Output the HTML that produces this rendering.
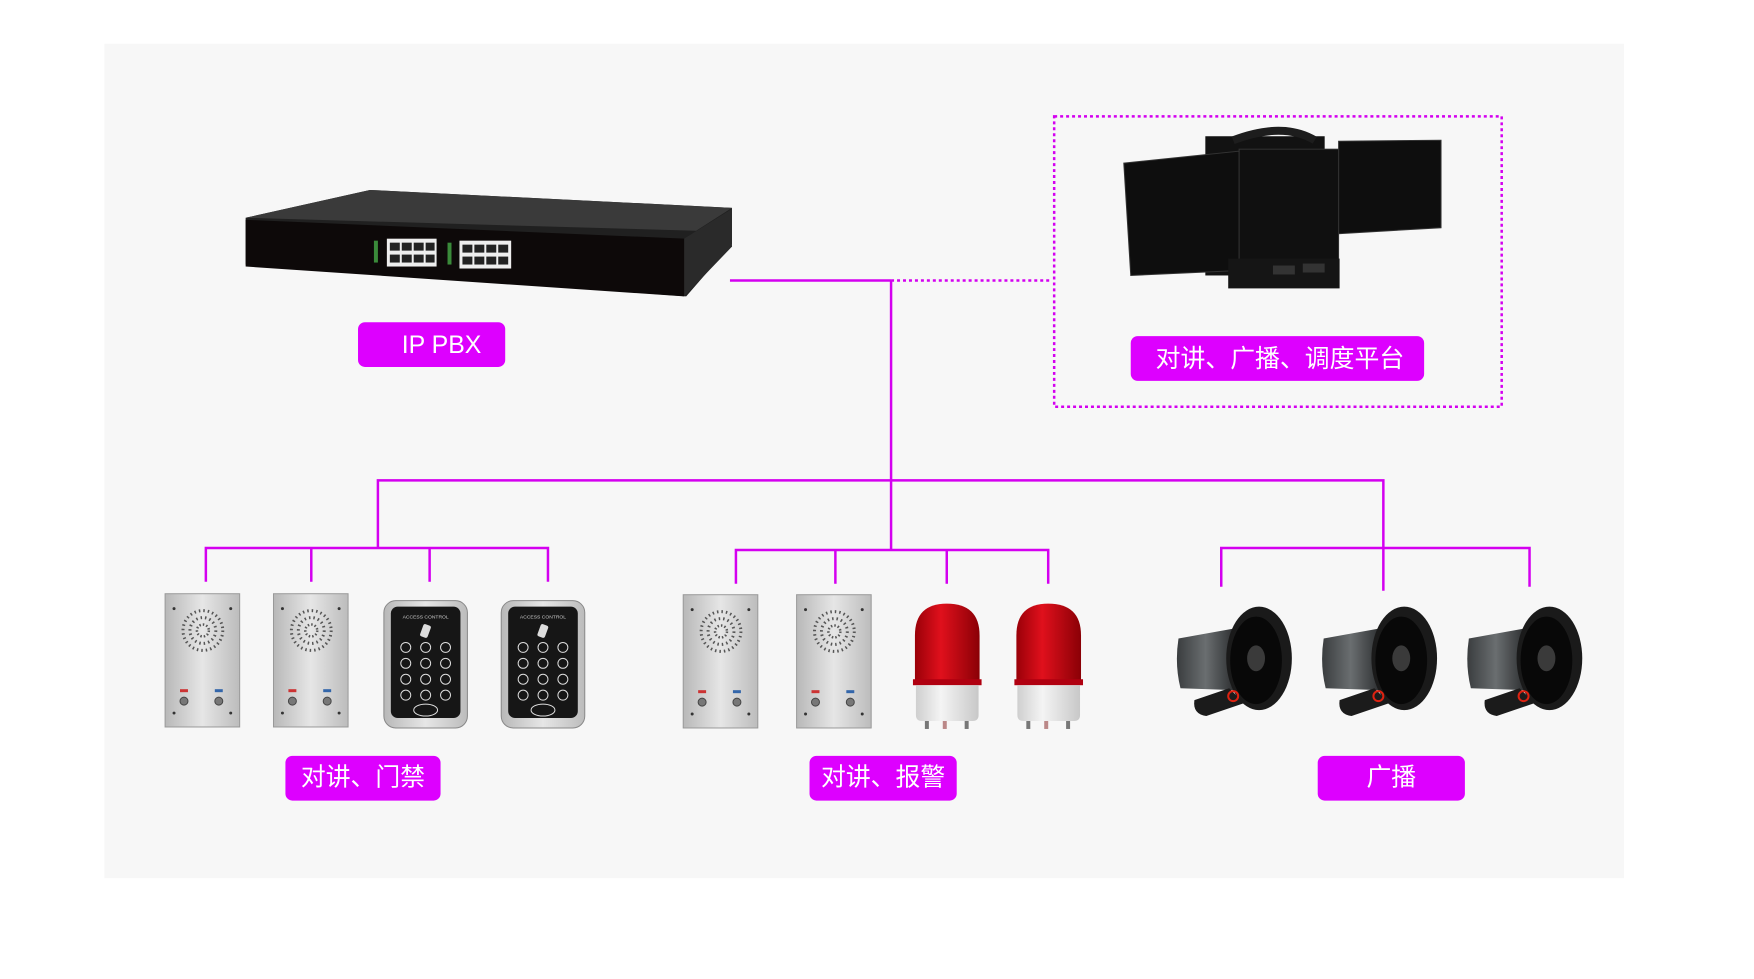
<!DOCTYPE html>
<html><head><meta charset="utf-8"><style>
html,body{margin:0;padding:0;background:#fff;}
svg{display:block}
text{font-family:"Liberation Sans","Noto Sans CJK SC",sans-serif;}
</style></head><body>
<svg width="1754" height="979" viewBox="0 0 1754 979" xmlns="http://www.w3.org/2000/svg">
<defs>
<linearGradient id="sil" x1="0" x2="1"><stop offset="0" stop-color="#b8b8b8"/><stop offset=".5" stop-color="#e6e6e6"/><stop offset="1" stop-color="#bcbcbc"/></linearGradient>
<linearGradient id="red" x1="0" x2="1"><stop offset="0" stop-color="#9a0008"/><stop offset=".4" stop-color="#e0101c"/><stop offset="1" stop-color="#8a0006"/></linearGradient>
<linearGradient id="wht" x1="0" x2="1"><stop offset="0" stop-color="#cfcfcf"/><stop offset=".4" stop-color="#f4f4f4"/><stop offset="1" stop-color="#c8c8c8"/></linearGradient>
<linearGradient id="spk" x1="0" x2="1"><stop offset="0" stop-color="#3a3d3f"/><stop offset=".5" stop-color="#6a6e70"/><stop offset="1" stop-color="#2e3032"/></linearGradient>
<g id="icom">
<rect x="0" y="0" width="75" height="134" fill="url(#sil)" stroke="#999" stroke-width="1"/>
<circle cx="38" cy="37" r="20" fill="none" stroke="#555" stroke-width="3" stroke-dasharray="1.5 3"/>
<circle cx="38" cy="37" r="13" fill="none" stroke="#555" stroke-width="3" stroke-dasharray="1.5 3"/>
<circle cx="38" cy="37" r="6" fill="none" stroke="#555" stroke-width="2.5" stroke-dasharray="1.5 2"/>
<circle cx="9" cy="15" r="1.5" fill="#333"/><circle cx="66" cy="15" r="1.5" fill="#333"/>
<circle cx="9" cy="120" r="1.5" fill="#333"/><circle cx="66" cy="120" r="1.5" fill="#333"/>
<rect x="15" y="96" width="8" height="3" fill="#c33"/><rect x="50" y="96" width="8" height="3" fill="#36a"/>
<circle cx="19" cy="108" r="4" fill="#777" stroke="#444"/><circle cx="54" cy="108" r="4" fill="#777" stroke="#444"/>
</g>
<g id="keyp">
<rect x="0" y="0" width="84" height="128" rx="12" fill="url(#sil)" stroke="#888"/>
<rect x="7" y="6" width="70" height="112" rx="7" fill="#161616"/>
<text x="42" y="18" font-size="5" fill="#ccc" text-anchor="middle">ACCESS CONTROL</text>
<rect x="38" y="24" width="8" height="13" rx="2" fill="#ddd" transform="rotate(20 42 30)"/>
<g fill="none" stroke="#ddd" stroke-width="1">
<circle cx="22" cy="47" r="5"/><circle cx="42" cy="47" r="5"/><circle cx="62" cy="47" r="5"/>
<circle cx="22" cy="63" r="5"/><circle cx="42" cy="63" r="5"/><circle cx="62" cy="63" r="5"/>
<circle cx="22" cy="79" r="5"/><circle cx="42" cy="79" r="5"/><circle cx="62" cy="79" r="5"/>
<circle cx="22" cy="95" r="5"/><circle cx="42" cy="95" r="5"/><circle cx="62" cy="95" r="5"/>
<ellipse cx="42" cy="110" rx="12" ry="6"/></g>
</g>
<g id="beac">
<path d="M2 78 L2 32 Q2 0 34 0 Q67 0 67 32 L67 78 Z" fill="url(#red)"/>
<rect x="0" y="76" width="69" height="6" fill="#b00010"/>
<path d="M3 82 L66 82 L66 112 Q66 118 60 118 L9 118 Q3 118 3 112 Z" fill="url(#wht)"/>
<rect x="12" y="118" width="4" height="8" fill="#777"/><rect x="30" y="118" width="4" height="8" fill="#b88"/><rect x="52" y="118" width="4" height="8" fill="#777"/>
</g>
<g id="spkr">
<path d="M4 30 L60 20 L60 82 L6 80 Q0 56 4 30 Z" fill="url(#spk)"/>
<path d="M20 92 L55 80 L70 95 L32 108 Q18 106 20 92 Z" fill="#1b1b1b"/>
<ellipse cx="85" cy="50" rx="33" ry="52" fill="#1a1a1a"/>
<ellipse cx="82" cy="52" rx="26" ry="44" fill="#080808"/>
<ellipse cx="82" cy="50" rx="9" ry="13" fill="#3a3a3a"/>
<circle cx="59" cy="88" r="5" fill="none" stroke="#d21" stroke-width="2"/>
</g>
</defs>
<g transform="scale(0.9945)">
<rect x="105" y="44" width="1528" height="839" fill="#f7f7f7"/>

<!-- switch -->
<polygon points="247,219 372,191 736,209 736,245 690,298 247,266" fill="#202020"/>
<polygon points="247,219 372,191 736,209 700,232" fill="#3a3a3a"/>
<polygon points="247,221 688,240 688,298 247,268" fill="#0d0909"/>
<polygon points="688,240 736,210 736,248 688,298" fill="#2a2a2a"/>
<rect x="389" y="240" width="50" height="28" fill="#eee"/><rect x="462" y="242" width="52" height="28" fill="#eee"/>
<g fill="#222"><rect x="392" y="244" width="10" height="8"/><rect x="404" y="244" width="10" height="8"/><rect x="416" y="244" width="10" height="8"/><rect x="428" y="244" width="9" height="8"/>
<rect x="392" y="256" width="10" height="8"/><rect x="404" y="256" width="10" height="8"/><rect x="416" y="256" width="10" height="8"/><rect x="428" y="256" width="9" height="8"/>
<rect x="465" y="246" width="10" height="8"/><rect x="477" y="246" width="10" height="8"/><rect x="489" y="246" width="10" height="8"/><rect x="501" y="246" width="10" height="8"/>
<rect x="465" y="258" width="10" height="8"/><rect x="477" y="258" width="10" height="8"/><rect x="489" y="258" width="10" height="8"/><rect x="501" y="258" width="10" height="8"/></g>
<rect x="376" y="242" width="4" height="22" fill="#3a8a3a"/><rect x="450" y="244" width="4" height="22" fill="#3a8a3a"/>

<!-- monitor -->
<rect x="1212" y="137" width="120" height="140" fill="#121212"/>
<path d="M1240 141 Q1290 122 1322 141" fill="none" stroke="#1d1d1d" stroke-width="8"/>
<polygon points="1130,164 1246,152 1246,272 1137,277" fill="#0e0e0e" stroke="#333"/>
<polygon points="1346,142 1449,141 1449,229 1346,235" fill="#0e0e0e" stroke="#333"/>
<rect x="1246" y="150" width="100" height="124" fill="#101010" stroke="#333"/>
<rect x="1235" y="260" width="112" height="30" fill="#151515"/>
<rect x="1280" y="267" width="22" height="9" fill="#333"/><rect x="1310" y="265" width="22" height="9" fill="#333"/>

<!-- connectors -->
<g stroke="#d400f0" stroke-width="2.5" fill="none">
<line x1="734" y1="282" x2="896" y2="282"/>
<line x1="896" y1="282" x2="896" y2="553"/>
<line x1="896" y1="282" x2="1058" y2="282" stroke-dasharray="3 3"/>
<rect x="1060" y="117" width="450" height="292" stroke-dasharray="3 3"/>
<polyline points="380,551 380,483 1391,483 1391,594"/>
<polyline points="207,585 207,551 551,551 551,585"/>
<line x1="313" y1="551" x2="313" y2="585"/><line x1="432" y1="551" x2="432" y2="585"/>
<polyline points="740,587 740,553 1054,553 1054,587"/>
<line x1="840" y1="553" x2="840" y2="587"/><line x1="952" y1="553" x2="952" y2="587"/>
<polyline points="1228,590 1228,551 1538,551 1538,590"/>
</g>

<!-- devices -->
<use href="#icom" x="166" y="597"/>
<use href="#icom" x="275" y="597"/>
<use href="#keyp" x="386" y="604"/>
<use href="#keyp" x="504" y="604"/>
<use href="#icom" x="687" y="598"/>
<use href="#icom" x="801" y="598"/>
<use href="#beac" x="918" y="607"/>
<use href="#beac" x="1020" y="607"/>
<use href="#spkr" x="1181" y="612"/>
<use href="#spkr" x="1327" y="612"/>
<use href="#spkr" x="1473" y="612"/>

<!-- labels -->
<g fill="#dd00ff">
<rect x="360" y="324" width="148" height="45" rx="7"/>
<rect x="1137" y="338" width="295" height="45" rx="7"/>
<rect x="287" y="760" width="156" height="45" rx="7"/>
<rect x="814" y="760" width="148" height="45" rx="7"/>
<rect x="1325" y="760" width="148" height="45" rx="7"/>
</g>
<g fill="#fff" font-size="25" text-anchor="middle">
<text x="444" y="355">IP PBX</text>
<text x="1287" y="369">对讲、广播、调度平台</text>
<text x="365" y="790">对讲、门禁</text>
<text x="888" y="790">对讲、报警</text>
<text x="1399" y="790">广播</text>
</g>
</g>
</svg>
</body></html>
